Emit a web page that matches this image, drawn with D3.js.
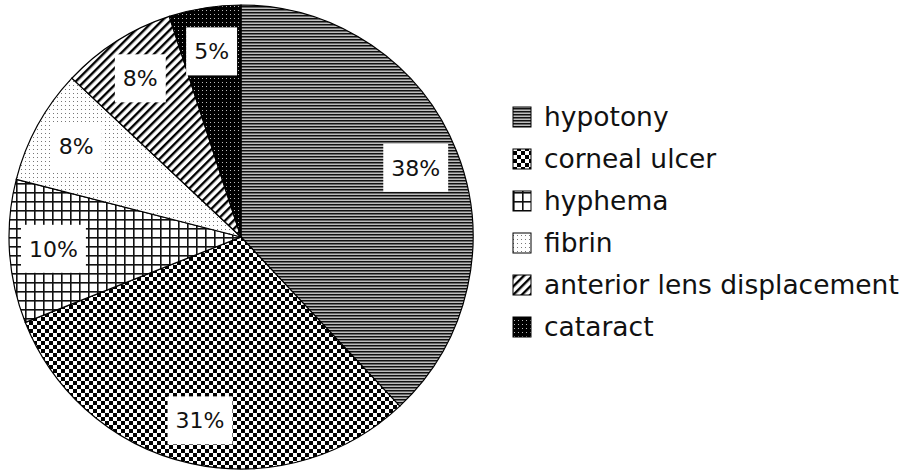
<!DOCTYPE html>
<html><head><meta charset="utf-8">
<script src="https://cdn.jsdelivr.net/npm/d3@7"></script>
<style>body{margin:0;background:#fff}svg{display:block}</style>
</head><body>
<svg id="c" width="905" height="471"></svg>
<script>
const categories = ["hypotony","corneal ulcer","hyphema","fibrin","anterior lens displacement","cataract"];
const values = [38,31,10,8,8,5];
const labels = ["38%","31%","10%","8%","8%","5%"];
const patternIds = ["p-hz","p-check","p-grid","p-dots","p-diag","p-dark"];

const svg = d3.select("#c");
const defs = svg.append("defs");
const FONT = "'DejaVu Sans', 'Open Sans', sans-serif";

// patterns
let p = defs.append("pattern").attr("id","p-hz").attr("patternUnits","userSpaceOnUse").attr("width",6).attr("height",3);
p.append("rect").attr("width",6).attr("height",3).attr("fill","#c8c8c8");
p.append("rect").attr("y",0).attr("width",6).attr("height",1.2).attr("fill","#111");
p.append("rect").attr("y",1.2).attr("width",6).attr("height",0.9).attr("fill","#5a5a5a");

p = defs.append("pattern").attr("id","p-check").attr("patternUnits","userSpaceOnUse").attr("width",8).attr("height",8);
p.append("rect").attr("width",8).attr("height",8).attr("fill","#fff");
p.append("rect").attr("x",0).attr("y",0).attr("width",4).attr("height",4).attr("fill","#000");
p.append("rect").attr("x",4).attr("y",4).attr("width",4).attr("height",4).attr("fill","#000");

p = defs.append("pattern").attr("id","p-grid").attr("patternUnits","userSpaceOnUse").attr("width",9).attr("height",9);
p.append("rect").attr("width",9).attr("height",9).attr("fill","#fff");
p.append("rect").attr("x",0).attr("y",0).attr("width",1.6).attr("height",9).attr("fill","#111");
p.append("rect").attr("x",0).attr("y",0).attr("width",9).attr("height",1.6).attr("fill","#111");

p = defs.append("pattern").attr("id","p-dots").attr("patternUnits","userSpaceOnUse").attr("width",4).attr("height",4);
p.append("rect").attr("width",4).attr("height",4).attr("fill","#fff");
p.append("rect").attr("x",0).attr("y",0).attr("width",1).attr("height",1).attr("fill","#777");

p = defs.append("pattern").attr("id","p-diag").attr("patternUnits","userSpaceOnUse").attr("width",6).attr("height",6).attr("patternTransform","rotate(45)");
p.append("rect").attr("width",6).attr("height",6).attr("fill","#fff");
p.append("rect").attr("x",0).attr("y",0).attr("width",2.4).attr("height",6).attr("fill","#000");

p = defs.append("pattern").attr("id","p-dark").attr("patternUnits","userSpaceOnUse").attr("width",4).attr("height",4);
p.append("rect").attr("width",4).attr("height",4).attr("fill","#000");
p.append("rect").attr("x",1).attr("y",1).attr("width",1).attr("height",1).attr("fill","#bbb");

const cx = 241, cy = 237, R = 232;
const pie = d3.pie().sort(null).value(d => d);
const arcs = pie(values);
const arc = d3.arc().innerRadius(0).outerRadius(R);
const g = svg.append("g").attr("transform", `translate(${cx},${cy})`);

g.selectAll("path.slice").data(arcs).join("path")
  .attr("class","slice")
  .attr("d", arc)
  .attr("fill", (d,i) => `url(#${patternIds[i]})`)
  .attr("stroke","#000").attr("stroke-width",1.2);

const labelArc = d3.arc().innerRadius(R*0.81).outerRadius(R*0.81);
const lg = g.selectAll("g.lab").data(arcs).join("g").attr("class","lab")
  .attr("transform", d => { const c = labelArc.centroid(d); return `translate(${c[0]},${c[1]})`; });
lg.each(function(d,i){
  const s = d3.select(this);
  const t = s.append("text").text(labels[i]).attr("text-anchor","middle").attr("dy","0.35em")
    .attr("font-family",FONT).attr("font-size",22).attr("fill","#111");
  const bb = t.node().getBBox();
  s.insert("rect","text").attr("x",bb.x-8).attr("y",-24).attr("width",bb.width+16).attr("height",48).attr("fill","#fff");
});

// legend
const leg = svg.append("g").attr("transform","translate(513,117)");
const rows = leg.selectAll("g").data(categories).join("g").attr("transform",(d,i)=>`translate(0,${i*42})`);
rows.append("rect").attr("x",0).attr("y",-10).attr("width",18).attr("height",20)
  .attr("fill",(d,i)=>`url(#${patternIds[i]})`).attr("stroke","#000").attr("stroke-width",1);
rows.append("text").attr("x",31).attr("y",0).attr("dy","0.35em").text(d=>d)
  .attr("font-family",FONT).attr("font-size",26.5).attr("fill","#111");
</script>
</body></html>
